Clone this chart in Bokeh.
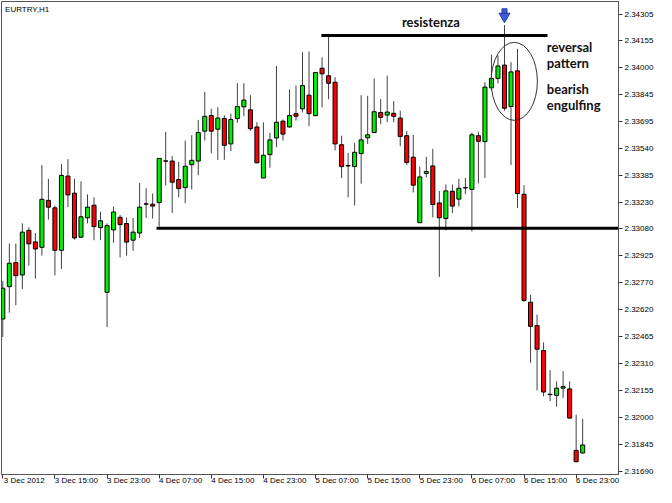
from bokeh.plotting import figure
from bokeh.models import (FixedTicker, PrintfTickFormatter, Range1d, ColumnDataSource, Label,
                          LinearAxis)
from bokeh.embed import file_html
from bokeh.resources import INLINE

chart_title = "EURTRY,H1"

opens = [
    2.32563, 2.32748, 2.32886, 2.32815, 2.33070, 2.33004, 2.32973, 2.33242, 2.33199, 2.32956,
    2.33381, 2.33283, 2.33031, 2.33142, 2.33214, 2.33086, 2.32716, 2.33073, 2.33145, 2.33109,
    2.33014, 2.33055, 2.33222, 2.33220, 2.33229, 2.33468, 2.33467, 2.33361, 2.33315, 2.33446,
    2.33467, 2.33638, 2.33727, 2.33649, 2.33710, 2.33565, 2.33710, 2.33777, 2.33760, 2.33662,
    2.33370, 2.33504, 2.33599, 2.33695, 2.33662, 2.33738, 2.33766, 2.33844, 2.33727, 2.33998,
    2.33955, 2.33918, 2.33560, 2.33441, 2.33435, 2.33510, 2.33600, 2.33630, 2.33745, 2.33730,
    2.33740, 2.33713, 2.33612, 2.33489, 2.33114, 2.33396, 2.33439, 2.33227, 2.33138, 2.33294,
    2.33249, 2.33315, 2.33305, 2.33612, 2.33578, 2.33886, 2.33940, 2.34016, 2.33779, 2.33983,
    2.33277, 2.32659, 2.32525, 2.32382, 2.32132, 2.32126, 2.32167, 2.32163, 2.31811, 2.31796,
]
highs = [
    2.32780, 2.32995, 2.32995, 2.33110, 2.33088, 2.33055, 2.33444, 2.33365, 2.33212, 2.33450,
    2.33478, 2.33365, 2.33350, 2.33276, 2.33259, 2.33177, 2.33110, 2.33207, 2.33159, 2.33144,
    2.33142, 2.33342, 2.33311, 2.33281, 2.33482, 2.33634, 2.33495, 2.33463, 2.33584, 2.33615,
    2.33701, 2.33862, 2.33767, 2.33775, 2.33728, 2.33738, 2.33912, 2.33912, 2.33844, 2.33689,
    2.33689, 2.33628, 2.34011, 2.33705, 2.33877, 2.33899, 2.34089, 2.34094, 2.33974, 2.34061,
    2.34187, 2.33946, 2.33612, 2.33513, 2.33571, 2.33844, 2.33840, 2.33940, 2.33821, 2.33955,
    2.33810, 2.33755, 2.33639, 2.33617, 2.33435, 2.33491, 2.33537, 2.33296, 2.33333, 2.33333,
    2.33365, 2.33370, 2.33630, 2.33634, 2.33918, 2.34076, 2.34072, 2.34245, 2.34033, 2.34109,
    2.33329, 2.32702, 2.32587, 2.32429, 2.32271, 2.32206, 2.32265, 2.32206, 2.32015, 2.31991,
]
lows = [
    2.32460, 2.32599, 2.32642, 2.32735, 2.32869, 2.32794, 2.32926, 2.33132, 2.32813, 2.32850,
    2.33203, 2.33017, 2.33027, 2.33110, 2.33014, 2.33014, 2.32516, 2.32999, 2.32915, 2.32925,
    2.32953, 2.33027, 2.33142, 2.33138, 2.33092, 2.33327, 2.33170, 2.33259, 2.33226, 2.33305,
    2.33385, 2.33584, 2.33511, 2.33474, 2.33474, 2.33524, 2.33686, 2.33723, 2.33639, 2.33454,
    2.33368, 2.33429, 2.33546, 2.33584, 2.33658, 2.33699, 2.33745, 2.33667, 2.33723, 2.33773,
    2.33821, 2.33528, 2.33370, 2.33259, 2.33212, 2.33337, 2.33565, 2.33628, 2.33677, 2.33689,
    2.33689, 2.33552, 2.33444, 2.33287, 2.33112, 2.33374, 2.33144, 2.32804, 2.33070, 2.33170,
    2.33207, 2.33277, 2.33064, 2.33339, 2.33370, 2.33872, 2.33912, 2.33755, 2.33444, 2.33199,
    2.32661, 2.32312, 2.32154, 2.32120, 2.32093, 2.32061, 2.32111, 2.31992, 2.31744, 2.31794,
]
closes = [
    2.32739, 2.32882, 2.32811, 2.33060, 2.32993, 2.32964, 2.33248, 2.33203, 2.32956, 2.33385,
    2.33273, 2.33027, 2.33148, 2.33203, 2.33092, 2.33125, 2.33097, 2.33175, 2.33103, 2.33003,
    2.33060, 2.33203, 2.33220, 2.33209, 2.33482, 2.33466, 2.33346, 2.33309, 2.33437, 2.33471,
    2.33630, 2.33723, 2.33638, 2.33713, 2.33557, 2.33705, 2.33779, 2.33816, 2.33652, 2.33457,
    2.33500, 2.33588, 2.33689, 2.33621, 2.33727, 2.33723, 2.33899, 2.33738, 2.33974, 2.33966,
    2.33912, 2.33565, 2.33435, 2.33439, 2.33517, 2.33588, 2.33617, 2.33749, 2.33717, 2.33747,
    2.33723, 2.33608, 2.33459, 2.33329, 2.33376, 2.33407, 2.33218, 2.33142, 2.33296, 2.33209,
    2.33311, 2.33313, 2.33617, 2.33580, 2.33890, 2.33940, 2.34011, 2.33769, 2.33977, 2.33281,
    2.32669, 2.32521, 2.32390, 2.32145, 2.32130, 2.32167, 2.32176, 2.31996, 2.31746, 2.31842,
]

time_tick_bars = [0, 8, 16, 24, 32, 40, 48, 56, 64, 72, 80, 88]
time_tick_labels = [
    "3 Dec 2012", "3 Dec 15:00", "3 Dec 23:00", "4 Dec 07:00", "4 Dec 15:00", "4 Dec 23:00",
    "5 Dec 07:00", "5 Dec 15:00", "5 Dec 23:00", "6 Dec 07:00", "6 Dec 15:00", "6 Dec 23:00",
]
price_ticks = [
    2.31690, 2.31845, 2.32000, 2.32155, 2.32310, 2.32465, 2.32620, 2.32770, 2.32925,
    2.33080, 2.33230, 2.33385, 2.33540, 2.33695, 2.33845, 2.34000, 2.34155, 2.34305,
]

support_level = 2.33083
support_from_bar = 23.6
resistance_level = 2.34185
resistance_bars = (48.9, 83.6)
resistance_text = "resistenza"
pattern_texts = ["reversal", "pattern", "bearish", "engulfing"]

UP = "#00ee00"
DOWN = "#ff0000"
WICK = "#404040"
X_START, X_END = -0.2, 94.5
Y_START, Y_END = 2.31673, 2.34380
LABEL_SHIFT = 3.3  # bars: centred axis labels then start at their tick, as in MetaTrader

idx = list(range(len(opens)))
src = ColumnDataSource(dict(
    x=idx, open=opens, high=highs, low=lows, close=closes,
    top=[max(o, c) for o, c in zip(opens, closes)],
    bottom=[min(o, c) for o, c in zip(opens, closes)],
    color=[UP if c > o else (DOWN if c < o else "#000000") for o, c in zip(opens, closes)],
))

p = figure(width=656, height=487, output_backend="svg", toolbar_location=None,
           x_range=Range1d(X_START, X_END), y_range=Range1d(Y_START, Y_END),
           y_axis_location="right", min_border_left=1, min_border_top=1,
           min_border_bottom=0, min_border_right=0)
p.extra_x_ranges = {"labels": Range1d(X_START - LABEL_SHIFT, X_END - LABEL_SHIFT)}
p.background_fill_color = "white"
p.border_fill_color = "white"
p.outline_line_color = "#555555"
p.outline_line_width = 1
p.xgrid.visible = False
p.ygrid.visible = False

p.segment(x0="x", y0="low", x1="x", y1="high", source=src, line_color=WICK, line_width=1)
p.vbar(x="x", top="top", bottom="bottom", width=0.62, source=src,
       fill_color="color", line_color="#000000", line_width=1)

# support / resistance
p.segment(x0=[support_from_bar], y0=[support_level], x1=[X_END], y1=[support_level],
          line_color="#000000", line_width=3)
p.segment(x0=[resistance_bars[0]], y0=[resistance_level], x1=[resistance_bars[1]],
          y1=[resistance_level], line_color="#000000", line_width=3)

# ellipse around pattern
p.ellipse(x=[78.5], y=[2.33923], width=7.1, height=0.00446,
          fill_color=None, line_color="#333333", line_width=1)

# arrow
p.scatter(x=[77], y=[2.34324], marker="square", size=5, fill_color="#3b5fdc",
          line_color="#23389a", line_width=1)
p.scatter(x=[77], y=[2.34295], marker="inverted_triangle", size=11, fill_color="#3b5fdc",
          line_color="#23389a", line_width=1)

FONT = "Lato"
p.add_layout(Label(x=65.7, y=2.34263, text=resistance_text, text_font=FONT,
                   text_font_style="bold", text_font_size="13px", text_align="center",
                   text_baseline="middle", text_color="#111111"))
for t, yv in zip(pattern_texts, [2.34118, 2.34029, 2.33879, 2.33790]):
    p.add_layout(Label(x=83.5, y=yv, text=t, text_font=FONT, text_font_style="bold",
                       text_font_size="13px", text_align="left", text_baseline="middle",
                       text_color="#111111"))

p.add_layout(Label(x=0.35, y=2.34336, text=chart_title, text_font="Liberation Sans",
                   text_font_size="8px", text_align="left", text_baseline="middle",
                   text_color="#000000"))

# x axis: tick marks at the bars
xa = p.xaxis[0]
xa.ticker = FixedTicker(ticks=time_tick_bars)
xa.major_label_overrides = {b: "" for b in time_tick_bars}
xa.minor_tick_line_color = None
xa.major_tick_in = 0
xa.major_tick_out = 4
xa.major_label_standoff = 0
xa.major_label_text_font_size = "0px"
xa.axis_line_color = "#555555"
xa.major_tick_line_color = "#333333"

# x axis labels (second axis, no line/ticks)
xl = LinearAxis(x_range_name="labels", ticker=FixedTicker(ticks=time_tick_bars),
                major_label_overrides={b: s for b, s in zip(time_tick_bars, time_tick_labels)},
                axis_line_color=None, major_tick_line_color=None, minor_tick_line_color=None,
                major_tick_in=0, major_tick_out=0,
                major_label_standoff=-3, major_label_text_font="Liberation Sans",
                major_label_text_font_size="8px", major_label_text_color="#000000")
p.add_layout(xl, "below")

ya = p.yaxis[0]
ya.ticker = FixedTicker(ticks=price_ticks)
ya.formatter = PrintfTickFormatter(format="%.5f")
ya.minor_tick_line_color = None
ya.major_tick_in = 0
ya.major_tick_out = 4
ya.major_label_standoff = 2
ya.major_label_text_font = "Liberation Sans"
ya.major_label_text_font_size = "8px"
ya.major_label_text_color = "#000000"
ya.axis_line_color = "#555555"
ya.major_tick_line_color = "#333333"

open("out.html", "w").write(file_html(p, INLINE))
